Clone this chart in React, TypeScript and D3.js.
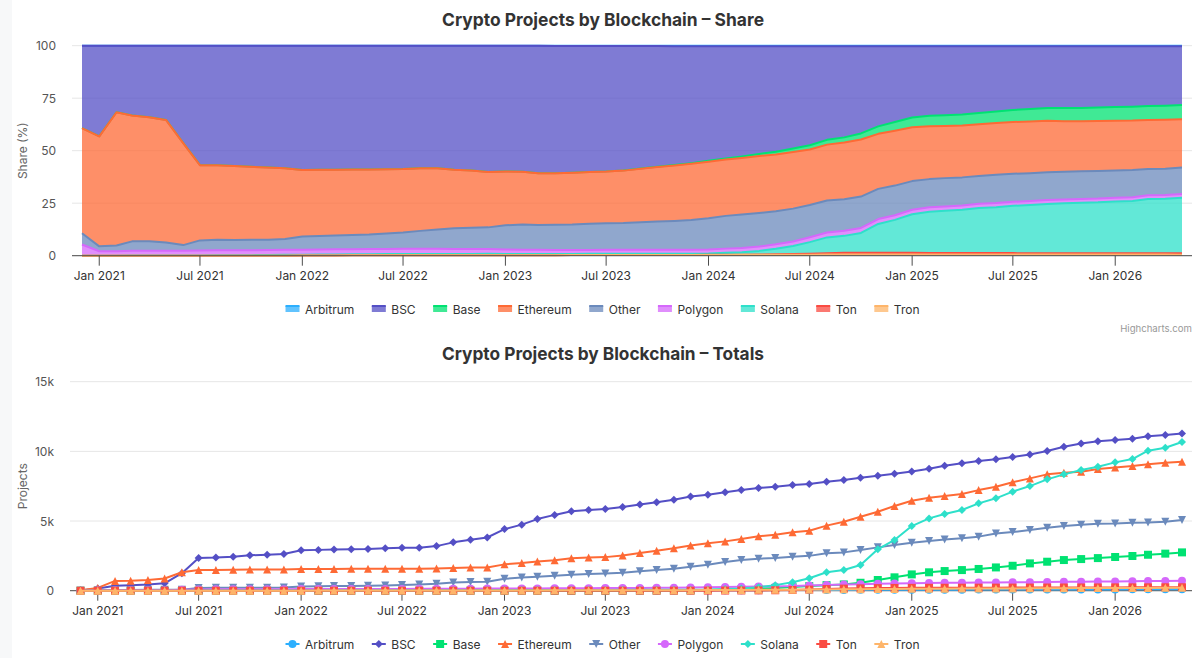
import { useEffect, useRef } from 'react';
import * as d3 from 'd3';

const seriesNames = ['Arbitrum', 'BSC', 'Base', 'Ethereum', 'Other', 'Polygon', 'Solana', 'Ton', 'Tron'];
const seriesColors = ['#2caffe', '#544fc5', '#00e272', '#fe6a35', '#6b8abc', '#d568fb', '#2ee0ca', '#fa4b42', '#feb56a'];
const markerSymbols = ['circle', 'diamond', 'square', 'triangle', 'triangle-down', 'circle', 'diamond', 'square', 'triangle'];

// monthly snapshots, Dec 2020 .. May 2026
const months = d3.timeMonth.range(new Date(2020, 11, 1), new Date(2026, 5, 1));

const arbitrum = [
    0, 0, 0, 0, 0, 0, 0, 0, 0, 0, 0, 0, 0,
    0, 0, 0, 0, 0, 0, 0, 0, 0, 0, 0, 0,
    0, 0, 5, 8, 10, 12, 15, 18, 20, 22, 25, 28,
    30, 33, 36, 40, 43, 46, 50, 53, 56, 60, 63, 66,
    70, 72, 74, 76, 78, 80, 82, 84, 86, 88, 90, 92,
    94, 96, 98, 100, 102,
];
const bsc = [
    22, 165, 350, 400, 444, 533, 1260, 2350, 2380, 2440, 2540, 2580, 2640,
    2900, 2930, 2950, 2970, 2990, 3040, 3080, 3090, 3200, 3470, 3650, 3820,
    4420, 4740, 5140, 5440, 5700, 5800, 5860, 6000, 6180, 6340, 6520, 6760,
    6890, 7060, 7220, 7370, 7460, 7580, 7660, 7820, 7940, 8110, 8250, 8400,
    8560, 8760, 8970, 9140, 9310, 9430, 9590, 9780, 10020, 10330, 10570, 10720,
    10810, 10910, 11080, 11170, 11290,
];
const base = [
    0, 0, 0, 0, 0, 0, 0, 0, 0, 0, 0, 0, 0,
    0, 0, 0, 0, 0, 0, 0, 0, 0, 0, 0, 0,
    0, 0, 0, 0, 0, 0, 0, 5, 10, 15, 20, 30,
    50, 70, 100, 140, 200, 260, 330, 400, 450, 570, 770, 960,
    1170, 1320, 1410, 1480, 1560, 1670, 1790, 1960, 2080, 2200, 2270, 2340,
    2420, 2490, 2580, 2660, 2750,
];
const ethereum = [
    28, 200, 700, 720, 770, 880, 1320, 1480, 1480, 1500, 1530, 1530, 1530,
    1550, 1560, 1560, 1570, 1570, 1580, 1580, 1580, 1600, 1630, 1670, 1670,
    1890, 1980, 2090, 2190, 2330, 2380, 2410, 2530, 2700, 2870, 3040, 3250,
    3400, 3540, 3710, 3900, 4020, 4190, 4300, 4670, 4950, 5310, 5670, 6080,
    6460, 6670, 6790, 6940, 7220, 7460, 7780, 8060, 8350, 8470, 8540, 8730,
    8850, 8950, 9070, 9190, 9260,
];
const other = [
    3, 9, 30, 53, 60, 60, 73, 200, 210, 210, 220, 220, 230,
    310, 320, 330, 340, 350, 380, 410, 450, 500, 580, 620, 650,
    850, 950, 1000, 1080, 1150, 1200, 1240, 1290, 1390, 1480, 1580, 1720,
    1870, 2060, 2200, 2300, 2340, 2440, 2500, 2680, 2750, 2920, 3110, 3280,
    3440, 3560, 3680, 3760, 3880, 4110, 4210, 4350, 4520, 4640, 4740, 4810,
    4830, 4880, 4900, 4950, 5070,
];
const polygon = [
    3, 8, 24, 28, 29, 33, 60, 95, 100, 100, 100, 105, 110,
    115, 118, 120, 122, 125, 127, 130, 132, 135, 140, 145, 150,
    155, 160, 165, 170, 175, 180, 185, 190, 200, 210, 220, 235,
    250, 265, 280, 295, 310, 330, 380, 410, 440, 470, 500, 520,
    540, 555, 565, 575, 585, 595, 605, 615, 625, 635, 645, 655,
    665, 675, 690, 705, 720,
];
const solana = [
    0, 0, 0, 1, 1, 2, 4, 6, 8, 10, 12, 15, 18,
    20, 22, 24, 26, 28, 30, 31, 32, 34, 36, 38, 40,
    45, 48, 50, 52, 54, 56, 58, 60, 63, 66, 70, 75,
    80, 120, 150, 250, 400, 600, 890, 1320, 1480, 1840, 2970, 3640,
    4640, 5190, 5500, 5790, 6270, 6630, 7110, 7510, 7990, 8350, 8660, 8900,
    9210, 9450, 10050, 10260, 10670,
];
const ton = [
    0, 0, 0, 0, 0, 0, 0, 0, 0, 0, 0, 0, 0,
    0, 0, 0, 0, 0, 0, 0, 0, 0, 0, 0, 0,
    0, 0, 0, 0, 0, 0, 0, 0, 0, 0, 0, 0,
    5, 10, 15, 20, 30, 50, 80, 120, 150, 170, 185, 200,
    205, 210, 212, 215, 218, 220, 222, 225, 228, 230, 232, 235,
    238, 240, 242, 245, 248,
];
const tron = [
    0, 0, 0, 0, 0, 0, 0, 0, 0, 0, 0, 0, 0,
    5, 6, 7, 8, 9, 10, 11, 12, 13, 14, 15, 16,
    18, 20, 22, 24, 26, 28, 30, 32, 34, 36, 38, 40,
    45, 50, 55, 60, 65, 70, 80, 90, 100, 110, 120, 130,
    135, 140, 145, 150, 155, 160, 165, 170, 175, 180, 185, 190,
    193, 196, 200, 203, 206,
];

const seriesValues = [arbitrum, bsc, base, ethereum, other, polygon, solana, ton, tron];

const shareTicks = [0, 25, 50, 75, 100];
const totalTicks = [0, 5000, 10000, 15000];

const FONT = 'Inter, "Helvetica Neue", Arial, sans-serif';
const TEXT = '#333333';
const GRID = '#e6e6e6';
const AXIS = '#4d4d4d';

function symbolPath(sym: string, x: number, y: number, r: number) {
    switch (sym) {
        case 'diamond':
            return `M${x},${y - r}L${x + r},${y}L${x},${y + r}L${x - r},${y}Z`;
        case 'square':
            return `M${x - r},${y - r}H${x + r}V${y + r}H${x - r}Z`;
        case 'triangle':
            return `M${x},${y - r}L${x + r},${y + r}L${x - r},${y + r}Z`;
        case 'triangle-down':
            return `M${x - r},${y - r}L${x + r},${y - r}L${x},${y + r}Z`;
        default:
            return `M${x - r},${y}a${r},${r} 0 1,0 ${2 * r},0a${r},${r} 0 1,0 ${-2 * r},0Z`;
    }
}

export default function App() {
    const svgRef = useRef<SVGSVGElement>(null);

    useEffect(() => {
        if (!svgRef.current) return;
        const svg = d3.select(svgRef.current);
        svg.selectAll('*').remove();

        svg.append('rect').attr('width', 1200).attr('height', 658).attr('fill', '#ffffff');
        svg.append('rect').attr('width', 12).attr('height', 658).attr('fill', '#f7f8f9');

        const table = months.map((date, i) => {
            const row: any = { date };
            seriesNames.forEach((name, k) => { row[name] = seriesValues[k][i]; });
            return row;
        });

        const title = (text: string, y: number) => {
            svg.append('text')
                .attr('x', 603)
                .attr('y', y)
                .attr('text-anchor', 'middle')
                .attr('font-family', FONT)
                .attr('font-size', '18px')
                .attr('font-weight', 700)
                .attr('fill', TEXT)
                .attr('textLength', 322)
                .attr('lengthAdjust', 'spacingAndGlyphs')
                .text(text);
        };

        const timeAxis = (x: d3.ScaleTime<number, number>, y0: number, left: number, right: number) => {
            svg.append('line')
                .attr('x1', left).attr('x2', right)
                .attr('y1', y0).attr('y2', y0)
                .attr('stroke', AXIS).attr('stroke-width', 1);
            const ticks = x.ticks(d3.timeMonth.every(6) as any);
            const fmt = d3.timeFormat('%b %Y');
            const g = svg.append('g');
            g.selectAll('line').data(ticks).enter().append('line')
                .attr('x1', d => x(d)).attr('x2', d => x(d))
                .attr('y1', y0).attr('y2', y0 + 10)
                .attr('stroke', AXIS).attr('stroke-width', 1);
            g.selectAll('text').data(ticks).enter().append('text')
                .attr('x', d => x(d))
                .attr('y', y0 + 24.5)
                .attr('text-anchor', 'middle')
                .attr('font-family', FONT)
                .attr('font-size', '12px')
                .attr('fill', TEXT)
                .text(d => fmt(d));
        };

        const valueAxis = (y: d3.ScaleLinear<number, number>, ticks: number[], left: number, right: number,
            fmt: (v: number) => string, label: string) => {
            const g = svg.append('g');
            g.selectAll('line').data(ticks).enter().append('line')
                .attr('x1', left).attr('x2', right)
                .attr('y1', d => y(d)).attr('y2', d => y(d))
                .attr('stroke', GRID).attr('stroke-width', 1);
            g.selectAll('text').data(ticks).enter().append('text')
                .attr('x', left - 16)
                .attr('y', d => y(d) + 4.5)
                .attr('text-anchor', 'end')
                .attr('font-family', FONT)
                .attr('font-size', '12px')
                .attr('fill', '#555555')
                .text(d => fmt(d));
            const cy = (y.range()[0] + y.range()[1]) / 2;
            svg.append('text')
                .attr('transform', `translate(27,${cy}) rotate(-90)`)
                .attr('text-anchor', 'middle')
                .attr('font-family', FONT)
                .attr('font-size', '12px')
                .attr('fill', '#666666')
                .text(label);
        };

        const legend = (cy: number, kind: 'area' | 'line') => {
            const g = svg.append('g');
            const gap = 17.5;
            let cursor = 0;
            seriesNames.forEach((name, k) => {
                const item = g.append('g').attr('transform', `translate(${cursor},${cy})`);
                const color = seriesColors[k];
                if (kind === 'area') {
                    item.append('rect')
                        .attr('x', 0).attr('y', -3).attr('width', 14).attr('height', 6)
                        .attr('fill', color).attr('fill-opacity', 0.75);
                    item.append('line')
                        .attr('x1', 0).attr('x2', 14).attr('y1', -3).attr('y2', -3)
                        .attr('stroke', color).attr('stroke-width', 2);
                } else {
                    item.append('line')
                        .attr('x1', 0).attr('x2', 14).attr('y1', 0).attr('y2', 0)
                        .attr('stroke', color).attr('stroke-width', 2);
                    item.append('path')
                        .attr('d', symbolPath(markerSymbols[k], 7, 0, 4))
                        .attr('fill', color);
                }
                const t = item.append('text')
                    .attr('x', 19.5)
                    .attr('y', 4.5)
                    .attr('font-family', FONT)
                    .attr('font-size', '12px')
                    .attr('fill', TEXT)
                    .text(name);
                const w = (t.node() as SVGTextElement).getComputedTextLength();
                cursor += 19.5 + w + gap;
            });
            const total = cursor - gap;
            g.attr('transform', `translate(${602.5 - total / 2},0)`);
        };

        // ---------- Share panel ----------
        title('Crypto Projects by Blockchain – Share', 26);

        const sLeft = 72, sRight = 1192, sTop = 45.7, sBottom = 255.7;
        const shareX = d3.scaleTime()
            .domain(d3.extent(months) as [Date, Date])
            .range([sLeft + 10, sRight - 10]);
        const shareY = d3.scaleLinear().domain([0, 100]).range([sBottom, sTop]);

        valueAxis(shareY, shareTicks, sLeft, sRight, d => String(d), 'Share (%)');

        const stackKeys = seriesNames.slice().reverse();
        const layers = d3.stack<any>().keys(stackKeys).offset(d3.stackOffsetExpand)(table);

        const area = d3.area<any>()
            .x(d => shareX(d.data.date))
            .y0(d => shareY(d[0] * 100))
            .y1(d => shareY(d[1] * 100));
        const topLine = d3.line<any>()
            .x(d => shareX(d.data.date))
            .y(d => shareY(d[1] * 100));

        const areaG = svg.append('g');
        seriesNames.forEach((name, k) => {
            const layer = layers.find(l => l.key === name)!;
            areaG.append('path')
                .attr('d', area(layer as any))
                .attr('fill', seriesColors[k])
                .attr('fill-opacity', 0.75);
            areaG.append('path')
                .attr('d', topLine(layer as any))
                .attr('fill', 'none')
                .attr('stroke', seriesColors[k])
                .attr('stroke-width', 2)
                .attr('stroke-linejoin', 'round');
        });

        timeAxis(shareX, sBottom, sLeft, sRight);
        legend(309, 'area');

        svg.append('text')
            .attr('x', 1192)
            .attr('y', 332)
            .attr('text-anchor', 'end')
            .attr('font-family', FONT)
            .attr('font-size', '9.6px')
            .attr('fill', '#999999')
            .text('Highcharts.com');

        // ---------- Totals panel ----------
        title('Crypto Projects by Blockchain – Totals', 360);

        const tLeft = 70, tRight = 1192, tTop = 381.7, tBottom = 590.7;
        const totalX = d3.scaleTime()
            .domain(d3.extent(months) as [Date, Date])
            .range([tLeft + 10.5, tRight - 10]);
        const totalY = d3.scaleLinear().domain([0, 15000]).range([tBottom, tTop]);

        valueAxis(totalY, totalTicks, tLeft, tRight, d => (d === 0 ? '0' : `${d / 1000}k`), 'Projects');
        timeAxis(totalX, tBottom, tLeft, tRight);

        const line = d3.line<number>()
            .x((_, i) => totalX(months[i]))
            .y(d => totalY(d));

        const lineG = svg.append('g');
        seriesNames.forEach((name, k) => {
            const values = seriesValues[k];
            const g = lineG.append('g').attr('class', name);
            g.append('path')
                .attr('d', line(values))
                .attr('fill', 'none')
                .attr('stroke', seriesColors[k])
                .attr('stroke-width', 2)
                .attr('stroke-linejoin', 'round')
                .attr('stroke-linecap', 'round');
            g.selectAll('path.marker').data(values).enter().append('path')
                .attr('class', 'marker')
                .attr('d', (d, i) => symbolPath(markerSymbols[k], totalX(months[i]), totalY(d), 4))
                .attr('fill', seriesColors[k]);
        });

        legend(644, 'line');
    }, []);

    return (
        <svg
            ref={svgRef}
            width={1200}
            height={658}
            style={{ position: 'absolute', left: 0, top: 0, display: 'block' }}
        />
    );
}
